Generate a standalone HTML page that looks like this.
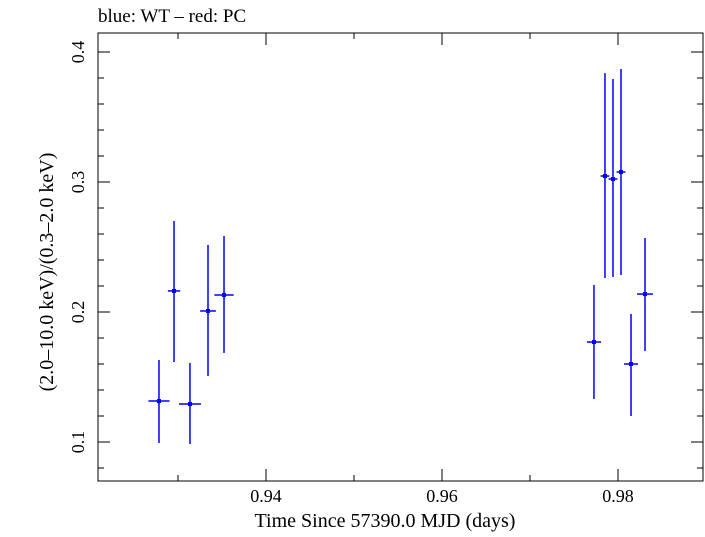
<!DOCTYPE html>
<html><head><meta charset="utf-8"><style>
body{margin:0;background:#fff}
svg text{font-family:"Liberation Serif",serif;fill:#000}
</style></head><body>
<svg id="chart" width="705" height="532" viewBox="0 0 705 532" xmlns="http://www.w3.org/2000/svg">
<text x="98" y="22" font-size="19">blue: WT – red: PC</text>
<rect x="98" y="33" width="605" height="448" fill="none" stroke="#000" stroke-width="1"/>
<g id="axes"></g>
<g id="marks"></g>
<text x="385" y="527" font-size="20" text-anchor="middle">Time Since 57390.0 MJD (days)</text>
<text x="0" y="0" font-size="20" text-anchor="middle" transform="translate(53,272) rotate(-90)">(2.0–10.0 keV)/(0.3–2.0 keV)</text>
</svg>
<script>
const times=[0.92784,0.92955,0.93136,0.93341,0.93523,0.97727,0.97852,0.97943,0.98034,0.98148,0.98307];
const timeErr=[0.0012,0.0007,0.00125,0.0009,0.0011,0.0008,0.0005,0.0005,0.0005,0.0008,0.0009];
const ratios=[0.1315,0.2162,0.1292,0.2008,0.2131,0.1769,0.3046,0.3023,0.3077,0.16,0.2138];
const ratioLow=[0.0992,0.1615,0.0985,0.1508,0.1685,0.1331,0.2262,0.2269,0.2285,0.12,0.17];
const ratioHigh=[0.1631,0.270,0.1608,0.2515,0.2585,0.2208,0.3838,0.3792,0.3869,0.1985,0.2569];
const xMajorTicks=[0.94,0.96,0.98];
const xTickLabels=["0.94","0.96","0.98"];
const yMajorTicks=[0.1,0.2,0.3,0.4];
const yTickLabels=["0.1","0.2","0.3","0.4"];

const L=98,R=703,T=33,B=481;
const x0=0.92091,x1=0.98966,y0=0.07,y1=0.41462;
const sx=v=>L+(v-x0)/(x1-x0)*(R-L);
const sy=v=>B-(v-y0)/(y1-y0)*(B-T);
const NS="http://www.w3.org/2000/svg";
function mk(tag,attrs,parent){const e=document.createElementNS(NS,tag);for(const k in attrs)e.setAttribute(k,attrs[k]);parent.appendChild(e);return e;}
const axes=document.getElementById('axes'),marks=document.getElementById('marks');
for(let i=92;i<=99;i++){const v=i/100;if(v<x0||v>x1)continue;const X=sx(v);const major=xMajorTicks.some(m=>Math.abs(m-v)<1e-9);const len=major?12:6;
 const t1=mk('line',{x1:X,x2:X,y1:B,y2:B-len,stroke:'#000'},axes);
 
 
 const t2=mk('line',{x1:X,x2:X,y1:T,y2:T+len,stroke:'#000'},axes);
 
 }
xMajorTicks.forEach((v,i)=>{const t=mk('text',{x:sx(v),y:B+21,'font-size':18,'text-anchor':'middle'},axes);t.textContent=xTickLabels[i];
 
 });
for(let i=4;i<=20;i++){const v=i/50;if(v<y0||v>y1)continue;const Y=sy(v);const major=yMajorTicks.some(m=>Math.abs(m-v)<1e-9);const len=major?12:6;
 const t1=mk('line',{x1:L,x2:L+len,y1:Y,y2:Y,stroke:'#000'},axes);
 
 
 const t2=mk('line',{x1:R,x2:R-len,y1:Y,y2:Y,stroke:'#000'},axes);
 
 }
yMajorTicks.forEach((v,i)=>{const t=mk('text',{x:0,y:0,'font-size':18,'text-anchor':'middle',transform:`translate(84,${sy(v)}) rotate(-90)`},axes);t.textContent=yTickLabels[i];
 
 });
times.forEach((t,i)=>{const g=mk('g',{},marks);
 
 
 mk('line',{x1:sx(t),x2:sx(t),y1:sy(ratioLow[i]),y2:sy(ratioHigh[i]),stroke:'#0000ff','stroke-width':1.5},g);
 mk('line',{x1:sx(t-timeErr[i]),x2:sx(t+timeErr[i]),y1:sy(ratios[i]),y2:sy(ratios[i]),stroke:'#0000ff','stroke-width':1.5},g);
 mk('rect',{x:sx(t)-2,y:sy(ratios[i])-2,width:4,height:4,fill:'#0000ff'},g);});
</script>
</body></html>
